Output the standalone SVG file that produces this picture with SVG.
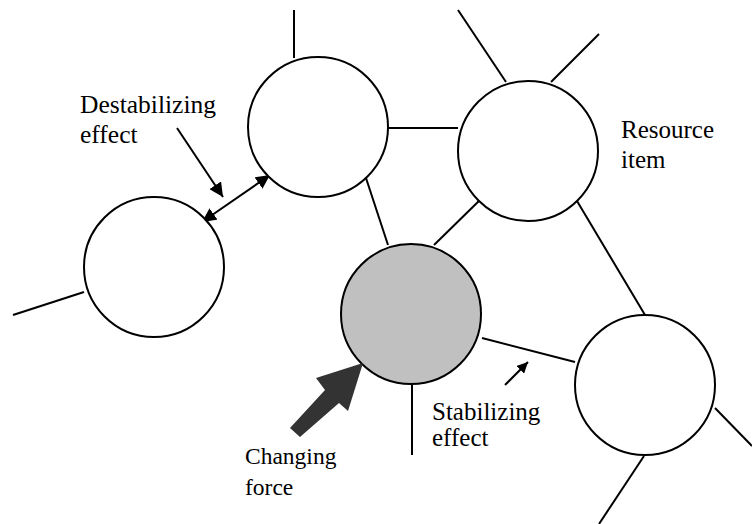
<svg xmlns="http://www.w3.org/2000/svg" width="752" height="524" viewBox="0 0 752 524">
  <defs>
    <marker id="head" viewBox="0 0 10 10" refX="10" refY="5" markerWidth="11" markerHeight="11" markerUnits="userSpaceOnUse" orient="auto-start-reverse">
      <path d="M0,0 L10,5 L0,10 z" fill="#000"/>
    </marker>
    <marker id="headL" viewBox="0 0 10 10" refX="10" refY="5" markerWidth="14" markerHeight="14" markerUnits="userSpaceOnUse" orient="auto-start-reverse">
      <path d="M0,0 L10,5 L0,10 z" fill="#000"/>
    </marker>
  </defs>
  <style>
    .node { fill: #fff; stroke: #000; stroke-width: 2; }
    .active { fill: #c0c0c0; }
    .edge { stroke: #000; stroke-width: 2; fill: none; }
    .lbl { font-family: "Liberation Serif", "Times New Roman", serif; font-size: 25px; fill: #000; }
    .small { font-size: 23.5px; }
  </style>
  <rect width="752" height="524" fill="#fff"/>

  <!-- links between resource items and loose ends -->
  <g id="connectors">
    <line class="edge" x1="294" y1="10" x2="294" y2="58"/>
    <line class="edge" x1="388" y1="128" x2="458" y2="128"/>
    <line class="edge" x1="458" y1="10" x2="506" y2="82"/>
    <line class="edge" x1="551" y1="82" x2="599" y2="34"/>
    <line class="edge" x1="365" y1="175" x2="388" y2="245"/>
    <line class="edge" x1="482" y1="198" x2="434" y2="245"/>
    <line class="edge" x1="577" y1="201" x2="645" y2="315"/>
    <line class="edge" x1="482" y1="338" x2="575" y2="362"/>
    <line class="edge" x1="412" y1="385" x2="412" y2="455"/>
    <line class="edge" x1="715" y1="408" x2="752" y2="446"/>
    <line class="edge" x1="644" y1="456" x2="599" y2="524"/>
    <line class="edge" x1="84" y1="292" x2="13" y2="315"/>
    <!-- destabilizing effect: two-way arrow plus its pointer -->
    <line class="edge" x1="202" y1="222" x2="270" y2="175" marker-start="url(#headL)" marker-end="url(#headL)"/>
    <line class="edge" x1="177" y1="128" x2="223" y2="197" marker-end="url(#headL)"/>
    <!-- stabilizing effect pointer -->
    <line class="edge" x1="505" y1="385" x2="528" y2="362" marker-end="url(#head)"/>
  </g>

  <g id="node-left"><circle class="node" cx="154" cy="267" r="70"/></g>
  <g id="node-top"><circle class="node" cx="318" cy="127" r="70"/></g>
  <g id="node-resource"><circle class="node" cx="528" cy="151" r="70"/></g>
  <g id="node-changed"><circle class="node active" cx="411" cy="314" r="70"/></g>
  <g id="node-right"><circle class="node" cx="645" cy="385" r="70"/></g>

  <!-- changing force -->
  <g id="force">
    <polygon points="290,428 325,390 316,378 363,363 348,411 339,403 300,437" fill="#333"/>
  </g>

  <g id="labels">
    <text class="lbl" x="80" y="113" style="font-size:25.5px">Destabilizing</text>
    <text class="lbl" x="80" y="143" style="font-size:25.5px">effect</text>
    <text class="lbl" x="621" y="138">Resource</text>
    <text class="lbl" x="621" y="168">item</text>
    <text class="lbl" x="432" y="420">Stabilizing</text>
    <text class="lbl" x="432" y="446">effect</text>
    <text class="lbl small" x="245" y="464">Changing</text>
    <text class="lbl small" x="245" y="495">force</text>
  </g>
</svg>
